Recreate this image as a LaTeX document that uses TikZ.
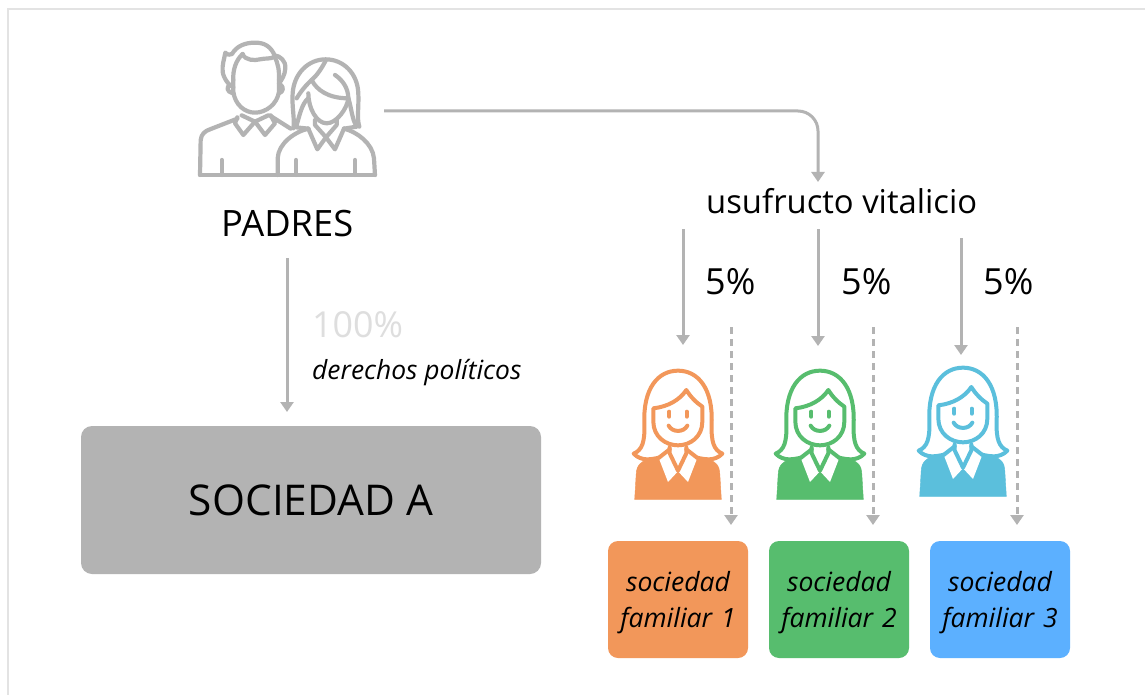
\documentclass[tikz,border=0pt]{standalone}
\usepackage{fontspec}
\setmainfont{Open Sans}
\usetikzlibrary{arrows.meta}
\definecolor{linegray}{HTML}{B3B3B3}
\definecolor{framegray}{HTML}{E3E3E3}
\definecolor{faint}{HTML}{DEDEDE}
\definecolor{cOrange}{HTML}{F2975A}
\definecolor{cGreen}{HTML}{57BD6E}
\definecolor{cBlue}{HTML}{5CB0FF}
\definecolor{cTeal}{HTML}{5BBFDC}
\newcommand{\fsz}[1]{\fontsize{#1}{#1}\selectfont}
\newcommand{\famlines}[1]{\rule{0pt}{26pt}sociedad\\[9.5pt]familiar #1}
\tikzset{
  x=1pt,y=-1pt,
  conn/.style={draw=linegray,line width=3pt,-{Triangle[length=10pt,width=13pt]}},
  dconn/.style={conn,dash pattern=on 7pt off 5pt},
  famtext/.style={text=black,font=\fsz{26.5}\itshape,align=center,text width=136pt,inner sep=0pt},
  fambox/.style={rounded corners=10pt,minimum width=140pt,minimum height=117pt,inner sep=0pt,famtext},
  lbl/.style={text=black,inner sep=0pt,anchor=base west},
  pen/.style={line width=#1,line cap=round,line join=round},
  woman/.pic={
    \begin{scope}[x=0.3333pt,y=-0.3333pt,shift={(-175,-30)}]
      \fill[pic actions] (45,418) -- (50,335) .. controls (52,318) and (62,306) .. (80,300) -- (120,290) -- (232,290) -- (270,300) .. controls (290,306) and (298,318) .. (300,335) -- (305,418) -- cycle;
      \fill[white] (118,296) -- (145,366) -- (173,336) -- (150,272) -- cycle;
      \fill[white] (232,296) -- (205,366) -- (177,336) -- (200,272) -- cycle;
      \draw[draw=white,fill=white] (150,262) -- (150,280) -- (175,330) -- (200,280) -- (200,262) -- cycle;
      \begin{scope}[pen=4pt]
        \draw[pic actions,fill=none] (150,262) -- (150,280) -- (175,332) -- (200,280) -- (200,262);
        \draw[pic actions,fill=none] (150,268) -- (118,293);
        \draw[pic actions,fill=none] (200,268) -- (232,293);
        \draw[pic actions,fill=none] (118,293) .. controls (95,298) and (65,305) .. (42,281)
          .. controls (68,270) and (76,245) .. (74,190) .. controls (70,85) and (115,32) .. (175,32)
          .. controls (235,32) and (280,85) .. (276,190) .. controls (274,245) and (282,270) .. (308,281)
          .. controls (285,305) and (255,298) .. (232,293);
        \draw[pic actions,fill=none] (101,145) .. controls (145,140) and (180,120) .. (200,90)
          .. controls (212,110) and (230,128) .. (248,140) -- (248,185)
          .. controls (248,230) and (212,256) .. (175,256) .. controls (138,256) and (101,230) .. (101,185) -- cycle;
        \draw[pic actions,fill=none] (149,155) -- (149,170);
        \draw[pic actions,fill=none] (201,155) -- (201,170);
        \draw[pic actions,fill=none] (147,197) .. controls (158,218) and (192,218) .. (203,197);
      \end{scope}
    \end{scope}
  }
}
\begin{document}
\begin{tikzpicture}
\useasboundingbox (0,0) rectangle (1145,695);
\fill[white] (0,0) rectangle (1145,695);
\draw[framegray,line width=1.8pt] (8,695) -- (8,9) -- (1145,9);

% parents icon
\begin{scope}[shift={(180,30)},x=0.3333pt,y=-0.3333pt,draw=linegray,pen=4.2pt]
  % man
  \draw (60,435) -- (585,435);
  \draw (60,435) -- (62,330) .. controls (64,312) and (75,303) .. (90,298) -- (172,266);
  \draw (272,258) -- (332,296);
  \draw (172,262) -- (165,280) -- (190,315) -- (225,275) -- (255,315) -- (285,280) -- (272,256);
  \draw (185,256) -- (225,275) -- (265,256);
  \draw (160,150) -- (160,185) .. controls (165,225) and (195,248) .. (225,248) .. controls (258,248) and (292,222) .. (297,185) -- (297,150);
  \draw (160,172) .. controls (150,170) and (130,145) .. (128,125) .. controls (126,105) and (132,90) .. (136,68)
     .. controls (143,75) and (150,76) .. (156,72) .. controls (170,48) and (195,38) .. (225,38)
     .. controls (255,38) and (272,50) .. (284,76) .. controls (300,78) and (318,92) .. (316,115) .. controls (315,135) and (305,150) .. (297,160);
  \draw (188,72) .. controls (195,92) and (225,92) .. (240,88) .. controls (255,84) and (272,88) .. (284,80);
  \draw (160,150) .. controls (158,120) and (168,90) .. (188,72);
  \draw (297,150) .. controls (298,120) and (294,100) .. (284,80);
  \draw (148,165) .. controls (140,172) and (140,185) .. (158,190);
  \draw (303,165) .. controls (311,172) and (311,185) .. (297,190);
  \draw (125,390) -- (125,435);
  % woman
  \draw (293,435) -- (293,385) .. controls (295,340) and (345,305) .. (385,296);
  \draw (585,435) -- (582,385) .. controls (578,340) and (530,305) .. (492,296);
  \draw (348,390) -- (348,435);
  \draw (525,390) -- (525,435);
  \draw (385,296) -- (412,358) -- (438,322) -- (465,358) -- (492,296);
  \draw (405,270) -- (405,285) -- (438,322) -- (470,285) -- (470,270);
  \draw (340,295) .. controls (345,270) and (335,230) .. (338,190) .. controls (342,130) and (385,88) .. (437,88)
     .. controls (490,88) and (533,130) .. (535,190) .. controls (537,230) and (530,265) .. (538,290);
  \draw (350,205) .. controls (362,185) and (378,165) .. (395,150) .. controls (412,135) and (425,115) .. (437,92);
  \draw (395,150) .. controls (410,180) and (445,205) .. (505,205);
  \draw (465,135) .. controls (488,150) and (505,175) .. (505,205);
  \draw (385,190) .. controls (385,235) and (410,280) .. (440,280) .. controls (470,280) and (502,235) .. (505,205);
  \draw (385,205) .. controls (365,220) and (358,260) .. (348,292) -- (385,296);
  \draw (505,205) .. controls (515,235) and (515,265) .. (530,290) -- (492,296);
\end{scope}
\coordinate (iconR) at (384,111);

% women icons
\pic[fill=cOrange,draw=cOrange] (w1) at (678,370) {woman};
\pic[fill=cGreen,draw=cGreen] (w2) at (820,370) {woman};
\pic[fill=cTeal,draw=cTeal] (w3) at (963,367) {woman};

% labels
\node[lbl,font=\fsz{36.3}] (padres) at (221,236) {PADRES};
\node[lbl,font=\fsz{32.8}] (usu) at (706,213) {usufructo vitalicio};
\node[lbl,font=\fsz{36}] (p1) at (705,294) {5\%};
\node[lbl,font=\fsz{36}] (p2) at (841,294) {5\%};
\node[lbl,font=\fsz{36}] (p3) at (983,294) {5\%};
\node[lbl,font=\fsz{35.8},text=faint] (cien) at (312,337) {100\%};
\node[lbl,font=\fsz{26.4}\itshape] (der) at (312,379) {derechos políticos};

% boxes
\node[fill=linegray,rounded corners=11pt,minimum width=460pt,minimum height=148pt,inner sep=0pt,text=black,font=\fsz{42.4}] (socA) at (311,500) {SOCIEDAD A};
\node[fambox,fill=cOrange] (f1) at (678,599.5) {\famlines{1}};
\node[fambox,fill=cGreen] (f2) at (839,599.5) {\famlines{2}};
\node[fambox,fill=cBlue] (f3) at (1000,599.5) {\famlines{3}};

% connector end points
\coordinate (padS) at (287,258);
\coordinate (socN) at (287,412);
\coordinate (usuN) at (818,182);
\coordinate (a1s) at (683,229); \coordinate (a1e) at (683,345);
\coordinate (a2s) at (818,229); \coordinate (a2e) at (818,346);
\coordinate (a3s) at (961,238); \coordinate (a3e) at (961,355);
\coordinate (d1s) at (731,327); \coordinate (d1e) at (731,525);
\coordinate (d2s) at (873,327); \coordinate (d2e) at (873,525);
\coordinate (d3s) at (1017,327); \coordinate (d3e) at (1017,525);

% connectors
\draw[conn,rounded corners=20pt] (iconR) -| (usuN);
\draw[conn] (padS) -- (socN);
\draw[conn] (a1s) -- (a1e);
\draw[conn] (a2s) -- (a2e);
\draw[conn] (a3s) -- (a3e);
\draw[dconn] (d1s) -- (d1e);
\draw[dconn] (d2s) -- (d2e);
\draw[dconn] (d3s) -- (d3e);
\end{tikzpicture}
\end{document}
